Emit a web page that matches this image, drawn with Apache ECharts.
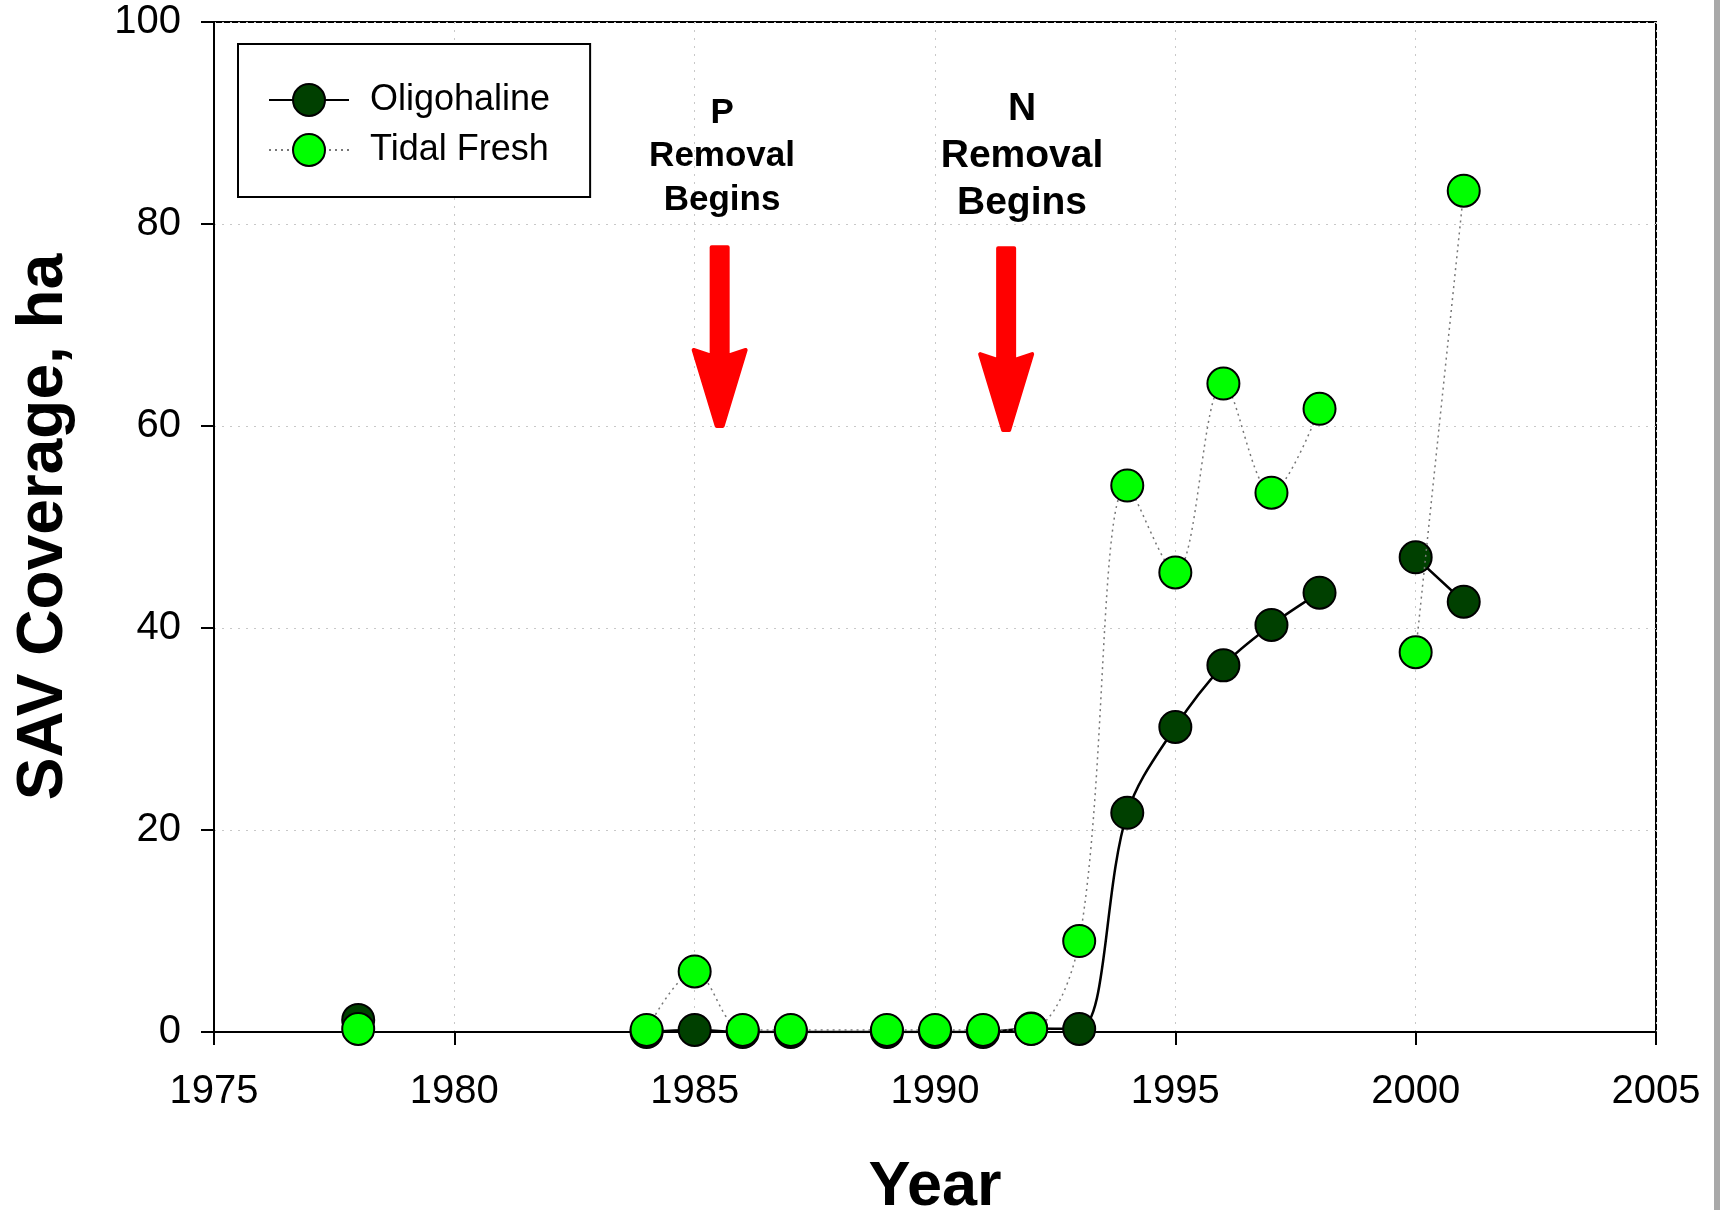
<!DOCTYPE html>
<html>
<head>
<meta charset="utf-8">
<title>SAV Coverage</title>
<script src="https://cdn.jsdelivr.net/npm/echarts@6/dist/echarts.min.js"></script>
<style>
html, body { margin: 0; padding: 0; background: #fff; }
#savBox { width: 1720px; height: 1210px; }
</style>
</head>
<body>
<div id="savBox"></div>
<script>
// survey years (null = no survey -> line break)
var years = [1978, 1983, 1984, 1985, 1986, 1987, 1989, 1990, 1991, 1992, 1993, 1994, 1995, 1996, 1997, 1998, 1999, 2000, 2001];
var oligohaline = [1.2, null, 0, 0.2, 0, 0, 0, 0, 0, 0.35, 0.3, 21.7, 30.2, 36.3, 40.3, 43.5, null, 47.0, 42.6];
var tidalFresh = [0.3, null, 0.2, 6.0, 0.2, 0.2, 0.2, 0.2, 0.2, 0.3, 9.0, 54.1, 45.5, 64.2, 53.4, 61.7, null, 37.6, 83.3];

var xRange = [1975, 2005];
var yRange = [0, 100];

// annotation arrows: year of arrow, top / tip of arrow (ha)
var noteText = ['P\nRemoval\nBegins', 'N\nRemoval\nBegins'];
var noteYear = [1985.52, 1991.48];
var noteTop = [77.7, 77.6];
var noteTip = [59.8, 59.4];

var FONT = "'Liberation Sans', Arial, Helvetica, sans-serif";

function toPairs(vals) {
    var out = [];
    for (var i = 0; i < years.length; i++) {
        out.push([years[i], vals[i] === null ? '-' : vals[i]]);
    }
    return out;
}

var option_sav = {
    animation: false,
    backgroundColor: '#fff',
    textStyle: { fontFamily: FONT },
    grid: {
        left: 214,
        top: 22,
        right: 64,
        bottom: 178,
        outerBoundsMode: 'none',
        containLabel: false,
        show: true,
        borderColor: '#000',
        borderWidth: 2
    },
    legend: {
        orient: 'vertical',
        left: 238,
        top: 44,
        padding: [38, 40, 29, 30],
        itemWidth: 80,
        itemHeight: 40,
        itemGap: 14,
        itemTextGap: 5,
        backgroundColor: '#fff',
        borderColor: '#000',
        borderWidth: 2,
        borderRadius: 0,
        textStyle: { fontSize: 36, color: '#000', fontFamily: FONT, padding: [0, 0, 0, 16] },
        data: ['Oligohaline', 'Tidal Fresh']
    },
    xAxis: {
        type: 'value',
        min: xRange[0],
        max: xRange[1],
        interval: 5,
        name: 'Year',
        nameLocation: 'middle',
        nameGap: 124,
        nameTextStyle: { fontSize: 63, fontWeight: 'bold', color: '#000', fontFamily: FONT },
        axisLine: { lineStyle: { color: '#000', width: 2 } },
        axisTick: { show: true, inside: false, length: 13, lineStyle: { color: '#000', width: 2 } },
        axisLabel: {
            fontSize: 40, color: '#000', margin: 40, fontFamily: FONT,
            formatter: function (v) { return String(v); }
        },
        splitLine: { show: true, lineStyle: { color: '#c8c8c8', type: [2, 6], width: 1 } }
    },
    yAxis: {
        type: 'value',
        min: yRange[0],
        max: yRange[1],
        interval: 20,
        name: 'SAV Coverage, ha',
        nameLocation: 'middle',
        nameRotate: 90,
        nameGap: 138,
        nameTextStyle: { fontSize: 64, fontWeight: 'bold', color: '#000', fontFamily: FONT },
        axisLine: { show: true, lineStyle: { color: '#000', width: 2 } },
        axisTick: { show: true, inside: false, length: 13, lineStyle: { color: '#000', width: 2 } },
        axisLabel: { fontSize: 40, color: '#000', margin: 33, fontFamily: FONT },
        splitLine: { show: true, lineStyle: { color: '#c8c8c8', type: [2, 6], width: 1 } }
    },
    series: [
        {
            name: 'Oligohaline',
            type: 'line',
            data: toPairs(oligohaline),
            smooth: 0.35,
            connectNulls: false,
            symbol: 'circle',
            symbolSize: 32,
            itemStyle: { color: '#004000', borderColor: '#000', borderWidth: 2 },
            lineStyle: { color: '#000', width: 2.5 },
            z: 2
        },
        {
            name: 'Tidal Fresh',
            type: 'line',
            data: toPairs(tidalFresh),
            smooth: 0.35,
            connectNulls: false,
            symbol: 'circle',
            symbolSize: 32,
            itemStyle: { color: '#00ff00', borderColor: '#000', borderWidth: 2 },
            lineStyle: { color: '#777', width: 1.5, type: [2, 4] },
            z: 3
        }
    ]
};

var myChart_sav = echarts.init(document.getElementById('savBox'));
myChart_sav.setOption(option_sav);

// red arrows + bold notes, placed from data coordinates
function buildNotes(chart) {
    var extras = [];
    var noteSize = [35, 39];
    var noteLine = [43.5, 47];
    var noteShift = [0.05, 0.33];
    var noteTextTop = [91.0, 91.4];
    for (var i = 0; i < noteText.length; i++) {
        var pTop = chart.convertToPixel({ gridIndex: 0 }, [noteYear[i], noteTop[i]]);
        var pTip = chart.convertToPixel({ gridIndex: 0 }, [noteYear[i], noteTip[i]]);
        var ax = pTop[0];
        var headY = pTip[1] - 78;
        extras.push({
            type: 'polygon',
            shape: {
                points: [
                    [ax - 8, pTop[1]], [ax + 8, pTop[1]], [ax + 8, headY + 6],
                    [ax + 26, headY], [ax + 3, pTip[1] - 2], [ax - 3, pTip[1] - 2],
                    [ax - 26, headY], [ax - 8, headY + 6]
                ]
            },
            style: { fill: '#ff0000', stroke: '#ff0000', lineWidth: 4, lineJoin: 'round' },
            z: 10
        });
        var tp = chart.convertToPixel({ gridIndex: 0 }, [noteYear[i] + noteShift[i], noteTextTop[i]]);
        extras.push({
            type: 'text',
            x: tp[0],
            y: tp[1] - noteLine[i] / 2,
            style: {
                text: noteText[i],
                fill: '#000',
                align: 'center',
                verticalAlign: 'top',
                lineHeight: noteLine[i],
                font: 'bold ' + noteSize[i] + 'px ' + FONT
            },
            z: 10
        });
    }
    // grey strip at the right edge of the picture
    extras.push({
        type: 'rect',
        shape: { x: 1714, y: 0, width: 6, height: 1210 },
        style: { fill: '#a9a9a9' },
        z: 10
    });
    return extras;
}

myChart_sav.setOption({ graphic: buildNotes(myChart_sav) });
</script>
</body>
</html>
